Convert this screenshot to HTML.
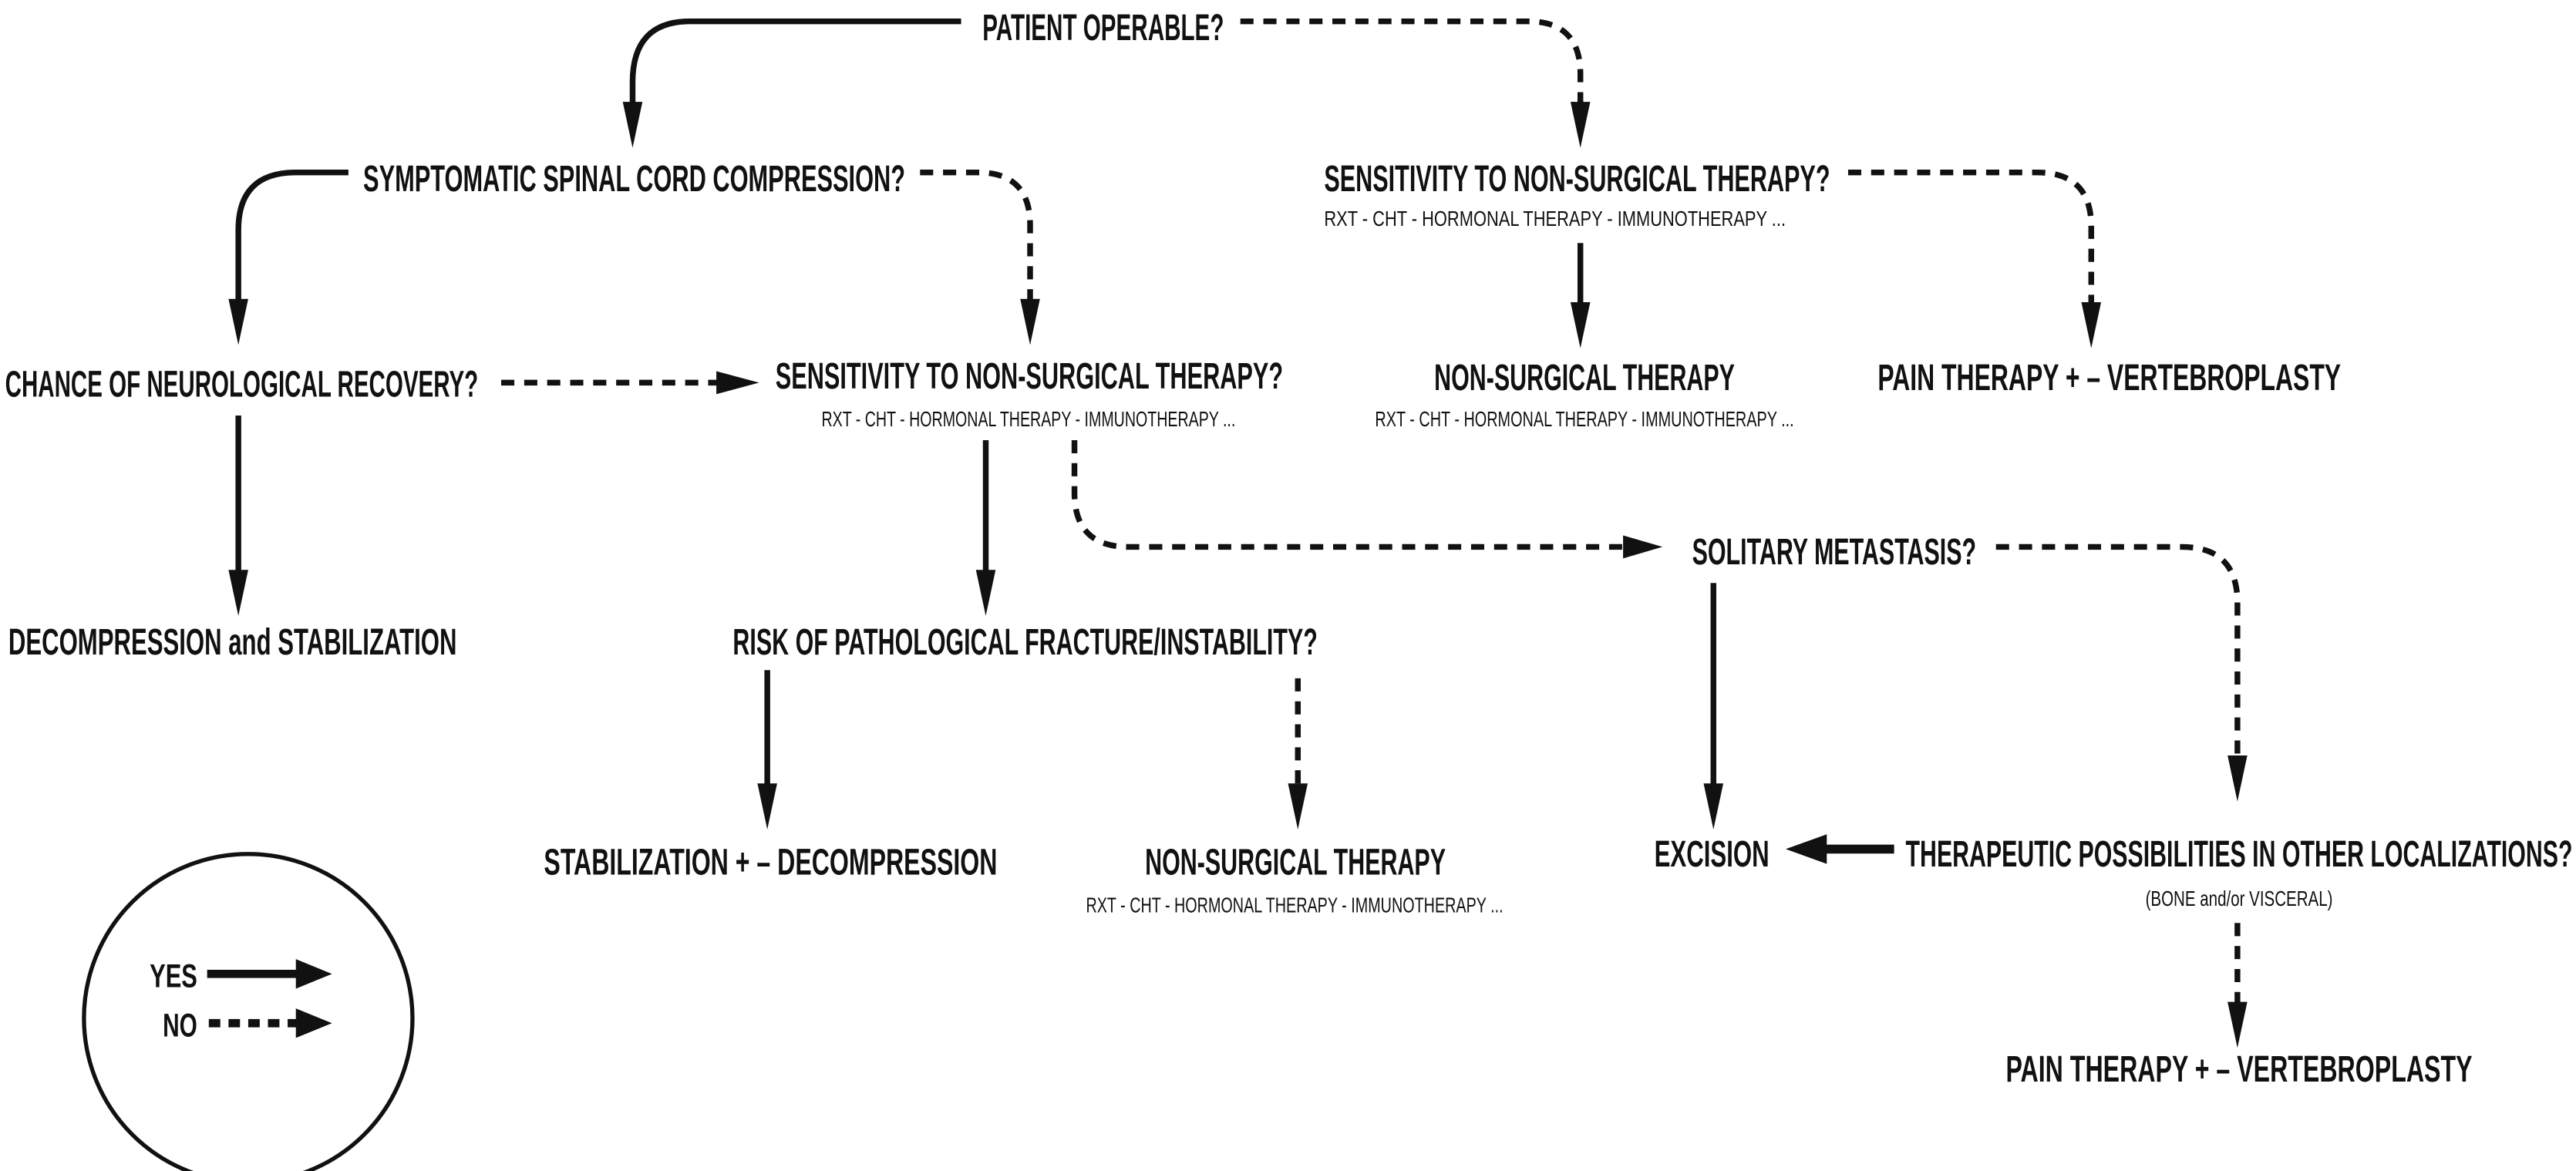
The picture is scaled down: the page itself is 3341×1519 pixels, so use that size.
<!DOCTYPE html>
<html><head><meta charset="utf-8"><style>
html,body{margin:0;padding:0;background:#fff;}
svg{display:block;}
text{font-family:"Liberation Sans Narrow","Liberation Sans",sans-serif;font-weight:bold;fill:#111;}
.b{font-size:22.5px;}
.s{font-size:13px;font-weight:normal;}
</style></head><body>
<svg width="3341" height="1519" viewBox="0 0 1568 713" xmlns="http://www.w3.org/2000/svg">
<rect width="1568" height="713" fill="#fff"/>
<g fill="none" stroke="#111" stroke-width="3.5">
<path d="M585,13 H420 Q385,13 385,50 V66"/>
<path d="M212,105 H180 Q145,105 145,140 V186"/>
<path d="M962,148 V188"/>
<path d="M145,253 V351"/>
<path d="M600,268 V351"/>
<path d="M1043,355 V481"/>
<path d="M467,408 V481"/>
</g>
<g fill="none" stroke="#111" stroke-width="3.5" stroke-dasharray="8,6">
<path d="M755,13 H930 Q962,13 962,45 V66"/>
<path d="M560,105 H595 Q627,105 627,137 V186"/>
<path d="M1125,105 H1240 Q1273,105 1273,138 V188"/>
<path d="M305,233 H440"/>
<path d="M654,268 V300 Q654,333 687,333 H992"/>
<path d="M1215,333 H1328 Q1362,333 1362,367 V464"/>
<path d="M790,413 V481"/>
<path d="M1362,562 V614"/>
</g>
<g fill="#111">
<polygon points="379,62 391,62 385,90"/>
<polygon points="956,62 968,62 962,90"/>
<polygon points="139,182 151,182 145,210"/>
<polygon points="621,182 633,182 627,210"/>
<polygon points="1267,184 1279,184 1273,212"/>
<polygon points="956,184 968,184 962,212"/>
<polygon points="436,226 436,240 462,233"/>
<polygon points="139,347 151,347 145,375"/>
<polygon points="594,347 606,347 600,375"/>
<polygon points="988,326 988,340 1012,333"/>
<polygon points="1356,460 1368,460 1362,488"/>
<polygon points="1037,477 1049,477 1043,505"/>
<polygon points="461,477 473,477 467,505"/>
<polygon points="784,477 796,477 790,505"/>
<polygon points="1356,610 1368,610 1362,638"/>
<polygon points="1112,508 1112,526 1087,517"/>
</g>
<line x1="1110" y1="517" x2="1153" y2="517" stroke="#111" stroke-width="5.5"/>

<text class="b" x="598" y="24.5" textLength="147" lengthAdjust="spacingAndGlyphs">PATIENT OPERABLE?</text>
<text class="b" x="221" y="116.5" textLength="330" lengthAdjust="spacingAndGlyphs">SYMPTOMATIC SPINAL CORD COMPRESSION?</text>
<text class="b" x="806" y="116.5" textLength="308" lengthAdjust="spacingAndGlyphs">SENSITIVITY TO NON-SURGICAL THERAPY?</text>
<text class="s" x="806" y="137.5" textLength="281" lengthAdjust="spacingAndGlyphs">RXT - CHT - HORMONAL THERAPY - IMMUNOTHERAPY ...</text>
<text class="b" x="3" y="241.5" textLength="288" lengthAdjust="spacingAndGlyphs">CHANCE OF NEUROLOGICAL RECOVERY?</text>
<text class="b" x="472" y="236.5" textLength="309" lengthAdjust="spacingAndGlyphs">SENSITIVITY TO NON-SURGICAL THERAPY?</text>
<text class="s" x="500" y="259.5" textLength="252" lengthAdjust="spacingAndGlyphs">RXT - CHT - HORMONAL THERAPY - IMMUNOTHERAPY ...</text>
<text class="b" x="873" y="237.5" textLength="183" lengthAdjust="spacingAndGlyphs">NON-SURGICAL THERAPY</text>
<text class="s" x="837" y="259.5" textLength="255" lengthAdjust="spacingAndGlyphs">RXT - CHT - HORMONAL THERAPY - IMMUNOTHERAPY ...</text>
<text class="b" x="1143" y="237.5" textLength="282" lengthAdjust="spacingAndGlyphs">PAIN THERAPY  + –  VERTEBROPLASTY</text>
<text class="b" x="5" y="398.5" textLength="273" lengthAdjust="spacingAndGlyphs">DECOMPRESSION and STABILIZATION</text>
<text class="b" x="446" y="398.5" textLength="356" lengthAdjust="spacingAndGlyphs">RISK OF PATHOLOGICAL FRACTURE/INSTABILITY?</text>
<text class="b" x="1030" y="343.5" textLength="173" lengthAdjust="spacingAndGlyphs">SOLITARY METASTASIS?</text>
<text class="b" x="331" y="532.5" textLength="276" lengthAdjust="spacingAndGlyphs">STABILIZATION + –  DECOMPRESSION</text>
<text class="b" x="697" y="532.5" textLength="183" lengthAdjust="spacingAndGlyphs">NON-SURGICAL THERAPY</text>
<text class="s" x="661" y="555.5" textLength="254" lengthAdjust="spacingAndGlyphs">RXT - CHT - HORMONAL THERAPY - IMMUNOTHERAPY ...</text>
<text class="b" x="1007" y="527.5" textLength="70" lengthAdjust="spacingAndGlyphs">EXCISION</text>
<text class="b" x="1160" y="527.5" textLength="406" lengthAdjust="spacingAndGlyphs">THERAPEUTIC POSSIBILITIES IN OTHER LOCALIZATIONS?</text>
<text class="s" x="1306" y="551.5" textLength="114" lengthAdjust="spacingAndGlyphs">(BONE and/or VISCERAL)</text>
<text class="b" x="1221" y="658.5" textLength="284" lengthAdjust="spacingAndGlyphs">PAIN THERAPY  + –  VERTEBROPLASTY</text>

<circle cx="151" cy="620" r="100" fill="none" stroke="#111" stroke-width="2.5"/>
<text class="b" x="91" y="601" textLength="29" lengthAdjust="spacingAndGlyphs" style="font-size:20px">YES</text>
<text class="b" x="99" y="631" textLength="21" lengthAdjust="spacingAndGlyphs" style="font-size:20px">NO</text>
<line x1="126" y1="593" x2="182" y2="593" stroke="#111" stroke-width="5"/>
<polygon points="180,584 180,602 202,593" fill="#111"/>
<line x1="127" y1="623" x2="182" y2="623" stroke="#111" stroke-width="5" stroke-dasharray="7,5"/>
<polygon points="180,614 180,632 202,623" fill="#111"/>
</svg>
</body></html>
